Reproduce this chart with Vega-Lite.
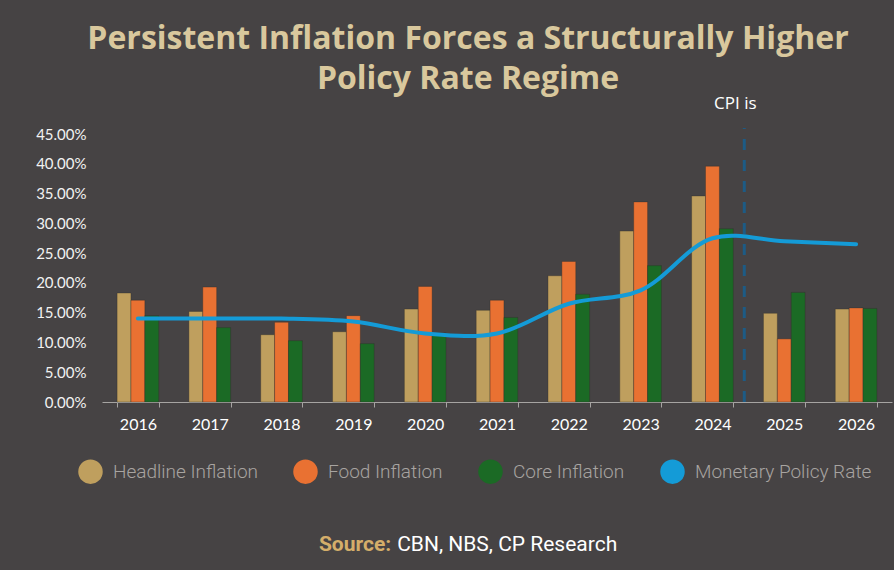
{
  "$schema": "https://vega.github.io/schema/vega-lite/v6.json",
  "width": 790,
  "height": 268,
  "autosize": {"type": "none"},
  "padding": {"left": 102, "top": 134, "right": 2, "bottom": 168},
  "background": "#464344",
  "title": {
    "text": ["Persistent Inflation Forces a Structurally Higher", "Policy Rate Regime"],
    "font": "Open Sans",
    "fontSize": 32,
    "fontWeight": "bold",
    "color": "#D9C89D",
    "lineHeight": 40,
    "anchor": "middle",
    "dx": -29,
    "offset": -1
  },
  "datasets": {
    "inflation": [
      {"year": "2016", "series": "Headline Inflation", "value": 0.183},
      {"year": "2016", "series": "Food Inflation", "value": 0.171},
      {"year": "2016", "series": "Core Inflation", "value": 0.145},
      {"year": "2017", "series": "Headline Inflation", "value": 0.152},
      {"year": "2017", "series": "Food Inflation", "value": 0.193},
      {"year": "2017", "series": "Core Inflation", "value": 0.125},
      {"year": "2018", "series": "Headline Inflation", "value": 0.113},
      {"year": "2018", "series": "Food Inflation", "value": 0.134},
      {"year": "2018", "series": "Core Inflation", "value": 0.103},
      {"year": "2019", "series": "Headline Inflation", "value": 0.118},
      {"year": "2019", "series": "Food Inflation", "value": 0.145},
      {"year": "2019", "series": "Core Inflation", "value": 0.098},
      {"year": "2020", "series": "Headline Inflation", "value": 0.156},
      {"year": "2020", "series": "Food Inflation", "value": 0.194},
      {"year": "2020", "series": "Core Inflation", "value": 0.116},
      {"year": "2021", "series": "Headline Inflation", "value": 0.154},
      {"year": "2021", "series": "Food Inflation", "value": 0.171},
      {"year": "2021", "series": "Core Inflation", "value": 0.142},
      {"year": "2022", "series": "Headline Inflation", "value": 0.212},
      {"year": "2022", "series": "Food Inflation", "value": 0.236},
      {"year": "2022", "series": "Core Inflation", "value": 0.181},
      {"year": "2023", "series": "Headline Inflation", "value": 0.287},
      {"year": "2023", "series": "Food Inflation", "value": 0.336},
      {"year": "2023", "series": "Core Inflation", "value": 0.229},
      {"year": "2024", "series": "Headline Inflation", "value": 0.346},
      {"year": "2024", "series": "Food Inflation", "value": 0.396},
      {"year": "2024", "series": "Core Inflation", "value": 0.291},
      {"year": "2025", "series": "Headline Inflation", "value": 0.149},
      {"year": "2025", "series": "Food Inflation", "value": 0.106},
      {"year": "2025", "series": "Core Inflation", "value": 0.184},
      {"year": "2026", "series": "Headline Inflation", "value": 0.156},
      {"year": "2026", "series": "Food Inflation", "value": 0.158},
      {"year": "2026", "series": "Core Inflation", "value": 0.157}
    ],
    "policy": [
      {"year": "2016", "rate": 0.14},
      {"year": "2017", "rate": 0.14},
      {"year": "2018", "rate": 0.14},
      {"year": "2019", "rate": 0.135},
      {"year": "2020", "rate": 0.115},
      {"year": "2021", "rate": 0.115},
      {"year": "2022", "rate": 0.165},
      {"year": "2023", "rate": 0.1875},
      {"year": "2024", "rate": 0.275},
      {"year": "2025", "rate": 0.27},
      {"year": "2026", "rate": 0.265}
    ]
  },
  "encoding": {
    "x": {
      "field": "year",
      "type": "ordinal",
      "scale": {"paddingInner": 0.42, "paddingOuter": 0.21},
      "axis": {"title": null}
    },
    "y": {
      "type": "quantitative",
      "scale": {"domain": [0, 0.45]},
      "axis": {"title": null, "format": ".2%", "tickCount": 9}
    }
  },
  "layer": [
    {
      "data": {"name": "inflation"},
      "mark": {"type": "bar", "stroke": "#2f2c2a", "strokeWidth": 0.6, "strokeOpacity": 0.6},
      "encoding": {
        "xOffset": {
          "field": "series",
          "scale": {"domain": ["Headline Inflation", "Food Inflation", "Core Inflation"]}
        },
        "y": {
          "field": "value",
          "type": "quantitative",
          "scale": {"domain": [0, 0.45]},
          "axis": {"title": null, "format": ".2%", "tickCount": 9}
        },
        "color": {
          "field": "series",
          "type": "nominal",
          "scale": {
            "domain": ["Headline Inflation", "Food Inflation", "Core Inflation", "Monetary Policy Rate"],
            "range": ["#BF9F5E", "#E97132", "#1B6A25", "#149BD7"]
          },
          "legend": {
            "title": null,
            "orient": "none",
            "direction": "horizontal",
            "legendX": -24,
            "legendY": 325,
            "symbolType": "circle",
            "symbolSize": 600,
            "symbolStrokeWidth": 0,
            "symbolOpacity": 1,
            "labelFont": "Roboto",
            "labelFontWeight": 300,
            "labelFontSize": 19,
            "labelLimit": 300,
            "labelColor": "#A8A4A1",
            "labelOffset": 10,
            "columnPadding": 35
          }
        }
      }
    },
    {
      "data": {"name": "policy"},
      "mark": {"type": "line", "interpolate": "catmull-rom", "strokeWidth": 4, "color": "#149BD7", "strokeCap": "round"},
      "encoding": {
        "y": {
          "field": "rate",
          "type": "quantitative",
          "scale": {"domain": [0, 0.45]},
          "axis": {"title": null, "format": ".2%", "tickCount": 9}
        }
      }
    },
    {
      "data": {"values": [{"year": "2024"}]},
      "mark": {"type": "rule", "strokeDash": [11, 10], "strokeWidth": 3, "color": "#1D5B85", "xOffset": 11},
      "encoding": {
        "x": {"field": "year", "type": "ordinal", "bandPosition": 1},
        "y": {"datum": 0, "type": "quantitative"},
        "y2": {"datum": 0.46}
      }
    },
    {
      "data": {"values": [{"year": "2024"}]},
      "mark": {"type": "text", "text": "CPI is", "font": "Open Sans", "fontSize": 17, "color": "#FFFFFF", "align": "center", "baseline": "middle", "dx": 2},
      "encoding": {
        "x": {"field": "year", "type": "ordinal", "bandPosition": 1},
        "y": {"datum": 0.5, "type": "quantitative"}
      }
    },
    {
      "data": {"values": [{"year": "2019"}]},
      "mark": {"type": "text", "text": "Source:", "font": "Roboto", "fontWeight": "bold", "fontSize": 21, "color": "#D4AE6A", "align": "right", "baseline": "middle", "dx": 17},
      "encoding": {
        "x": {"field": "year", "type": "ordinal", "bandPosition": 1},
        "y": {"datum": -0.24, "type": "quantitative"}
      }
    },
    {
      "data": {"values": [{"year": "2019"}]},
      "mark": {"type": "text", "text": "CBN, NBS, CP Research", "font": "Roboto", "fontSize": 21, "color": "#FFFFFF", "align": "left", "baseline": "middle", "dx": 23},
      "encoding": {
        "x": {"field": "year", "type": "ordinal", "bandPosition": 1},
        "y": {"datum": -0.24, "type": "quantitative"}
      }
    }
  ],
  "config": {
    "view": {"stroke": null},
    "axisX": {
      "labelAngle": 0,
      "tickBand": "extent",
      "domainColor": "#A6A4A2",
      "tickColor": "#A6A4A2",
      "tickSize": 5,
      "labelPadding": 9,
      "labelFont": "Lato",
      "labelFontSize": 16,
      "labelColor": "#FFFFFF",
      "grid": false
    },
    "axisY": {
      "grid": false,
      "domain": false,
      "ticks": false,
      "labelPadding": 16,
      "labelFont": "Lato",
      "labelFontSize": 15,
      "labelColor": "#F2F2F2"
    }
  }
}
